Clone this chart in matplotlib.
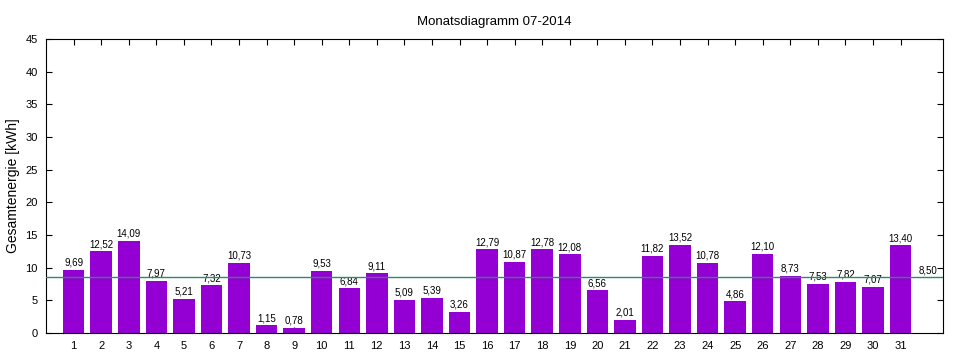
import matplotlib
matplotlib.use("Agg")
import matplotlib.pyplot as plt

plt.rcParams['font.family'] = ['Liberation Sans', 'DejaVu Sans']

days = list(range(1, 32))
energy = [9.69, 12.52, 14.09, 7.97, 5.21, 7.32, 10.73, 1.15, 0.78, 9.53,
          6.84, 9.11, 5.09, 5.39, 3.26, 12.79, 10.87, 12.78, 12.08, 6.56,
          2.01, 11.82, 13.52, 10.78, 4.86, 12.10, 8.73, 7.53, 7.82, 7.07,
          13.40]
average = 8.50
title = "Monatsdiagramm 07-2014"
ylabel = "Gesamtenergie [kWh]"

def de(v):
    return "{0:.2f}".format(v).replace(".", ",")

fig = plt.figure(figsize=(9.6, 3.6), dpi=100)
ax = fig.add_axes([0.048, 0.075, 0.934, 0.817])

ax.bar(days, energy, width=0.78, color="#9400d3", zorder=2)
for d, v in zip(days, energy):
    ax.text(d, v + 0.3, de(v), ha="center", va="bottom", fontsize=7, zorder=3)

# monthly average line
ax.axhline(average, color="#2a8a6c", linewidth=1, zorder=3)
ax.text(32.0, average + 0.3, de(average), ha="center", va="bottom", fontsize=7)

ax.set_xlim(0, 32.53)
ax.set_ylim(0, 45)
ax.set_xticks(days)
ax.set_yticks(range(0, 46, 5))
ax.tick_params(direction="in", top=True, right=True, labelsize=8, length=4, pad=6)
ax.set_title(title, fontsize=9.5, pad=10)
ax.set_ylabel(ylabel, fontsize=10, labelpad=4)

fig.savefig("out.png", dpi=100)
